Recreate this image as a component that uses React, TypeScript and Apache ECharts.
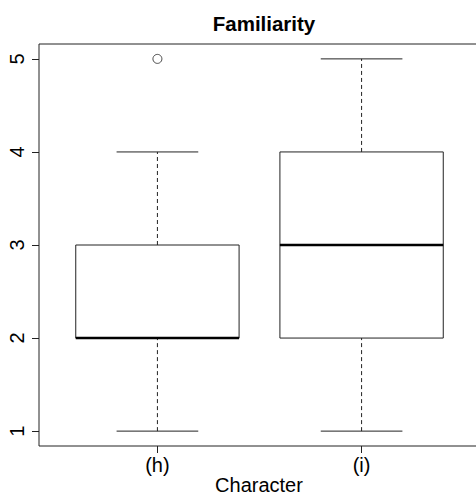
import React, { useEffect, useRef } from "react";
import * as echarts from "echarts";

const categories = ["(h)", "(i)"];
const lowerWhisker = [1, 1];
const q1 = [2, 2];
const median = [2, 3];
const q3 = [3, 4];
const upperWhisker = [4, 5];
const outliers: [number, number][] = [[1, 5]];
const yTicks = [1, 2, 3, 4, 5];
const xTicks = [1, 2];
const xAxisTitle = "Character";
const chartTitle = "Familiarity";

const FONT = "'Liberation Sans', Arial, Helvetica, sans-serif";
const LINE = "#222";

export default function App() {
  const ref = useRef<HTMLDivElement>(null);
  useEffect(() => {
    document.body.style.margin = "0";
    const chart = echarts.init(ref.current!, null, { renderer: "svg" });
    const boxData = categories.map((_, i) => [
      i + 1,
      lowerWhisker[i],
      q1[i],
      median[i],
      q3[i],
      upperWhisker[i],
    ]);
    chart.setOption({
      animation: false,
      backgroundColor: "#fff",
      title: {
        text: chartTitle,
        left: 259,
        textAlign: "center",
        top: 8,
        textStyle: { fontFamily: FONT, fontSize: 20.5, fontWeight: "bold", color: "#000" },
      },
      graphic: [
        {
          type: "text",
          x: 259,
          y: 485,
          style: {
            text: xAxisTitle,
            fontFamily: FONT,
            fontSize: 20,
            fill: "#000",
            align: "center",
            verticalAlign: "middle",
          },
        },
      ],
      grid: {
        left: 39,
        top: 44,
        width: 441,
        height: 402,
        containLabel: false,
        outerBoundsMode: "none",
        show: true,
        borderColor: LINE,
        borderWidth: 1,
        backgroundColor: "transparent",
      },
      xAxis: {
        type: "value",
        min: 0.42,
        max: 2.58,
        axisLine: { show: false },
        splitLine: { show: false },
        axisTick: { show: true, length: 7, customValues: xTicks, lineStyle: { color: LINE } },
        axisLabel: {
          customValues: xTicks,
          margin: 9,
          fontFamily: FONT,
          fontSize: 20,
          color: "#000",
          formatter: (v: number) => categories[Math.round(v) - 1] ?? "",
        },
      },
      yAxis: {
        type: "value",
        min: 0.84,
        max: 5.16,
        axisLine: { show: false },
        splitLine: { show: false },
        axisTick: { show: true, length: 7, customValues: yTicks, lineStyle: { color: LINE } },
        axisLabel: {
          customValues: yTicks,
          rotate: 90,
          margin: 12,
          fontFamily: FONT,
          fontSize: 20,
          color: "#000",
        },
      },
      series: [
        {
          type: "custom",
          data: boxData,
          renderItem: (params: any, api: any) => {
            const x = api.value(0);
            const lo = api.value(1);
            const b1 = api.value(2);
            const md = api.value(3);
            const b3 = api.value(4);
            const hi = api.value(5);
            const halfBox = api.size([0.4, 0])[0];
            const halfCap = api.size([0.2, 0])[0];
            const pLo = api.coord([x, lo]);
            const p1 = api.coord([x, b1]);
            const pMd = api.coord([x, md]);
            const p3 = api.coord([x, b3]);
            const pHi = api.coord([x, hi]);
            const cx = pLo[0];
            return {
              type: "group",
              children: [
                {
                  type: "line",
                  shape: { x1: cx, y1: pLo[1], x2: cx, y2: p1[1] },
                  style: { stroke: LINE, lineWidth: 1, lineDash: [4, 3] },
                },
                {
                  type: "line",
                  shape: { x1: cx, y1: p3[1], x2: cx, y2: pHi[1] },
                  style: { stroke: LINE, lineWidth: 1, lineDash: [4, 3] },
                },
                {
                  type: "line",
                  shape: { x1: cx - halfCap, y1: pLo[1], x2: cx + halfCap, y2: pLo[1] },
                  style: { stroke: LINE, lineWidth: 1 },
                },
                {
                  type: "line",
                  shape: { x1: cx - halfCap, y1: pHi[1], x2: cx + halfCap, y2: pHi[1] },
                  style: { stroke: LINE, lineWidth: 1 },
                },
                {
                  type: "rect",
                  shape: { x: cx - halfBox, y: p3[1], width: 2 * halfBox, height: p1[1] - p3[1] },
                  style: { fill: "none", stroke: LINE, lineWidth: 1 },
                },
                {
                  type: "line",
                  shape: { x1: cx - halfBox, y1: pMd[1], x2: cx + halfBox, y2: pMd[1] },
                  style: { stroke: "#000", lineWidth: 2.5 },
                },
              ],
            };
          },
        },
        {
          type: "scatter",
          data: outliers,
          symbol: "circle",
          symbolSize: 9,
          itemStyle: { color: "#fff", borderColor: LINE, borderWidth: 1 },
        },
      ],
    });
    return () => chart.dispose();
  }, []);
  return <div ref={ref} style={{ width: 476, height: 497 }} />;
}
